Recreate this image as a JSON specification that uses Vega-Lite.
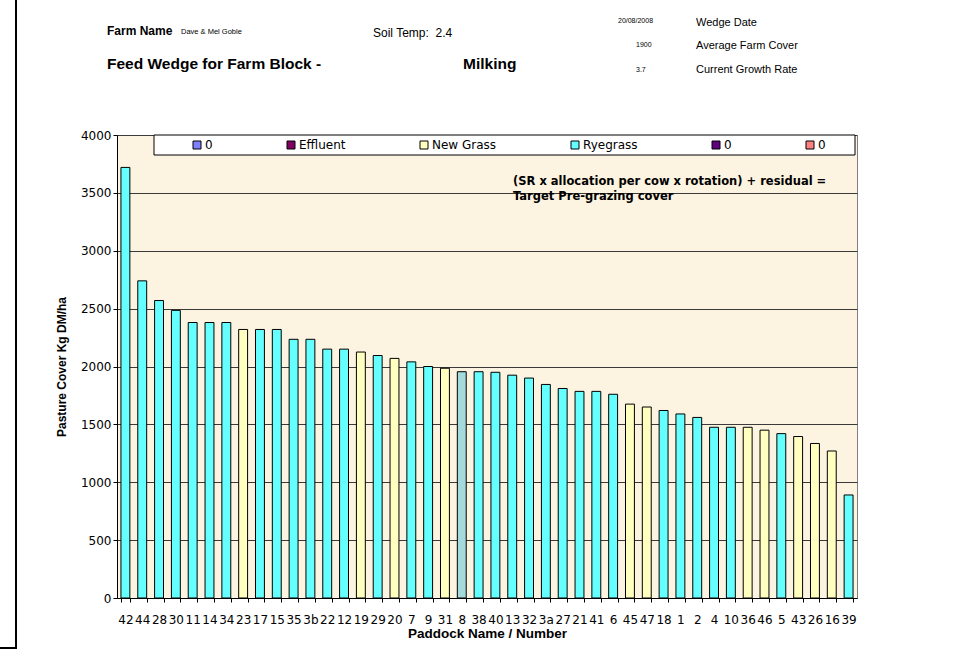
{
  "$schema": "https://vega.github.io/schema/vega-lite/v6.json",
  "width": 740,
  "height": 463,
  "autosize": {"type": "none"},
  "padding": {"left": 117, "top": 135, "right": 110, "bottom": 54},
  "background": "white",
  "config": {
    "view": {"fill": "#FCF3E0", "stroke": "#808080", "strokeWidth": 1},
    "text": {"font": "Liberation Sans", "color": "black"}
  },
  "datasets": {
    "paddocks": [
      {"paddock": "42", "cover": 3720, "type": "Ryegrass", "marked": false},
      {"paddock": "44", "cover": 2740, "type": "Ryegrass", "marked": false},
      {"paddock": "28", "cover": 2570, "type": "Ryegrass", "marked": false},
      {"paddock": "30", "cover": 2485, "type": "Ryegrass", "marked": false},
      {"paddock": "11", "cover": 2380, "type": "Ryegrass", "marked": false},
      {"paddock": "14", "cover": 2380, "type": "Ryegrass", "marked": false},
      {"paddock": "34", "cover": 2380, "type": "Ryegrass", "marked": false},
      {"paddock": "23", "cover": 2320, "type": "New Grass", "marked": false},
      {"paddock": "17", "cover": 2320, "type": "Ryegrass", "marked": false},
      {"paddock": "15", "cover": 2320, "type": "Ryegrass", "marked": false},
      {"paddock": "35", "cover": 2235, "type": "Ryegrass", "marked": false},
      {"paddock": "3b", "cover": 2235, "type": "Ryegrass", "marked": false},
      {"paddock": "22", "cover": 2150, "type": "Ryegrass", "marked": false},
      {"paddock": "12", "cover": 2150, "type": "Ryegrass", "marked": false},
      {"paddock": "19", "cover": 2125, "type": "New Grass", "marked": false},
      {"paddock": "29", "cover": 2095, "type": "Ryegrass", "marked": false},
      {"paddock": "20", "cover": 2070, "type": "New Grass", "marked": false},
      {"paddock": "7", "cover": 2040, "type": "Ryegrass", "marked": false},
      {"paddock": "9", "cover": 2000, "type": "Ryegrass", "marked": false},
      {"paddock": "31", "cover": 1985, "type": "New Grass", "marked": false},
      {"paddock": "8", "cover": 1955, "type": "Ryegrass", "marked": true},
      {"paddock": "38", "cover": 1955, "type": "Ryegrass", "marked": false},
      {"paddock": "40", "cover": 1950, "type": "Ryegrass", "marked": false},
      {"paddock": "13", "cover": 1925, "type": "Ryegrass", "marked": false},
      {"paddock": "32", "cover": 1900, "type": "Ryegrass", "marked": false},
      {"paddock": "3a", "cover": 1845, "type": "Ryegrass", "marked": false},
      {"paddock": "27", "cover": 1810, "type": "Ryegrass", "marked": false},
      {"paddock": "21", "cover": 1785, "type": "Ryegrass", "marked": false},
      {"paddock": "41", "cover": 1785, "type": "Ryegrass", "marked": false},
      {"paddock": "6", "cover": 1760, "type": "Ryegrass", "marked": false},
      {"paddock": "45", "cover": 1675, "type": "New Grass", "marked": false},
      {"paddock": "47", "cover": 1650, "type": "New Grass", "marked": false},
      {"paddock": "18", "cover": 1620, "type": "Ryegrass", "marked": false},
      {"paddock": "1", "cover": 1590, "type": "Ryegrass", "marked": false},
      {"paddock": "2", "cover": 1560, "type": "Ryegrass", "marked": false},
      {"paddock": "4", "cover": 1475, "type": "Ryegrass", "marked": false},
      {"paddock": "10", "cover": 1475, "type": "Ryegrass", "marked": false},
      {"paddock": "36", "cover": 1475, "type": "New Grass", "marked": false},
      {"paddock": "46", "cover": 1450, "type": "New Grass", "marked": false},
      {"paddock": "5", "cover": 1420, "type": "Ryegrass", "marked": false},
      {"paddock": "43", "cover": 1395, "type": "New Grass", "marked": false},
      {"paddock": "26", "cover": 1335, "type": "New Grass", "marked": false},
      {"paddock": "16", "cover": 1270, "type": "New Grass", "marked": false},
      {"paddock": "39", "cover": 890, "type": "Ryegrass", "marked": false}
    ]
  },
  "layer": [
    {
      "data": {"values": [{}]},
      "mark": {"type": "rect", "fill": "white", "stroke": "black", "strokeWidth": 1},
      "encoding": {"x": {"value": 37}, "x2": {"value": 738}, "y": {"value": 0}, "y2": {"value": 20}}
    },
    {
      "data": {"name": "paddocks"},
      "mark": {"type": "bar", "stroke": "black", "strokeWidth": 1},
      "encoding": {
        "x": {
          "field": "paddock",
          "type": "nominal",
          "sort": null,
          "scale": {"paddingInner": 0.47, "paddingOuter": 0.235},
          "axis": {
            "title": "Paddock Name / Number",
            "titleFont": "Liberation Sans",
            "titleFontSize": 13.5,
            "titleFontWeight": "bold",
            "titleColor": "black",
            "titlePadding": 1,
            "labelAngle": 0,
            "labelOverlap": false,
            "labelFont": "DejaVu Sans",
            "labelFontSize": 12,
            "labelColor": "black",
            "labelPadding": 12,
            "tickBand": "extent",
            "tickSize": 4,
            "tickColor": "black",
            "domainColor": "black",
            "grid": false
          }
        },
        "y": {
          "field": "cover",
          "type": "quantitative",
          "scale": {"domain": [0, 4000], "nice": false},
          "axis": {
            "title": "Pasture Cover Kg DM/ha",
            "titleFont": "Liberation Sans",
            "titleFontSize": 12,
            "titleFontWeight": "bold",
            "titleColor": "black",
            "titlePadding": 12,
            "values": [0, 500, 1000, 1500, 2000, 2500, 3000, 3500, 4000],
            "format": "d",
            "labelFont": "DejaVu Sans",
            "labelFontSize": 12,
            "labelColor": "black",
            "labelPadding": 2,
            "tickSize": 4,
            "tickColor": "black",
            "domainColor": "black",
            "grid": true,
            "gridColor": "#3a3a3a",
            "gridWidth": 1
          }
        },
        "color": {
          "condition": {"test": "datum.marked === true", "value": "#A4DADC"},
          "field": "type",
          "type": "nominal",
          "scale": {
            "domain": ["0a", "Effluent", "New Grass", "Ryegrass", "0b", "0c"],
            "range": ["#8080FF", "#800060", "#FFFFC0", "#66FFFF", "#600080", "#FF8080"]
          },
          "legend": {
            "orient": "none",
            "legendX": 37,
            "legendY": 1,
            "direction": "horizontal",
            "columns": 6,
            "values": ["0a", "Effluent", "New Grass", "Ryegrass", "0b", "0c"],
            "labelExpr": "datum.value == '0a' || datum.value == '0b' || datum.value == '0c' ? '0' : datum.value",
            "title": " ",
            "titleOrient": "left",
            "titleFont": "DejaVu Sans",
            "titleFontSize": 11,
            "titlePadding": 34,
            "symbolType": "square",
            "symbolSize": 64,
            "symbolStrokeColor": "black",
            "symbolStrokeWidth": 1,
            "symbolOpacity": 1,
            "labelFont": "DejaVu Sans",
            "labelFontSize": 12,
            "labelColor": "black",
            "labelOffset": 2,
            "columnPadding": 72,
            "gridAlign": "none",
            "padding": 3
          }
        }
      }
    },
    {
      "data": {"values": [{}]},
      "mark": {"type": "text", "text": ["(SR x allocation per cow x rotation) + residual =", "Target Pre-grazing cover"], "align": "left", "baseline": "alphabetic", "font": "DejaVu Sans", "fontWeight": "bold", "fontSize": 11.5, "lineHeight": 15},
      "encoding": {"x": {"value": 396}, "y": {"value": 50}}
    },
    {
      "data": {"values": [{}]},
      "mark": {"type": "text", "text": "Farm Name", "align": "left", "baseline": "alphabetic", "fontWeight": "bold", "fontSize": 12},
      "encoding": {"x": {"value": -10}, "y": {"value": -100}}
    },
    {
      "data": {"values": [{}]},
      "mark": {"type": "text", "text": "Dave & Mel Goble", "align": "left", "baseline": "alphabetic", "fontSize": 7.5},
      "encoding": {"x": {"value": 64}, "y": {"value": -101}}
    },
    {
      "data": {"values": [{}]},
      "mark": {"type": "text", "text": "Soil Temp:\u00a0\u00a02.4", "align": "left", "baseline": "alphabetic", "fontSize": 12},
      "encoding": {"x": {"value": 256}, "y": {"value": -98}}
    },
    {
      "data": {"values": [{}]},
      "mark": {"type": "text", "text": "Feed Wedge for Farm Block -", "align": "left", "baseline": "alphabetic", "fontWeight": "bold", "fontSize": 15.5},
      "encoding": {"x": {"value": -10}, "y": {"value": -66}}
    },
    {
      "data": {"values": [{}]},
      "mark": {"type": "text", "text": "Milking", "align": "left", "baseline": "alphabetic", "fontWeight": "bold", "fontSize": 15.5},
      "encoding": {"x": {"value": 346}, "y": {"value": -66}}
    },
    {
      "data": {"values": [{}]},
      "mark": {"type": "text", "text": "20/08/2008", "align": "left", "baseline": "alphabetic", "fontSize": 7},
      "encoding": {"x": {"value": 501}, "y": {"value": -112}}
    },
    {
      "data": {"values": [{}]},
      "mark": {"type": "text", "text": "Wedge Date", "align": "left", "baseline": "alphabetic", "fontSize": 11},
      "encoding": {"x": {"value": 579}, "y": {"value": -109}}
    },
    {
      "data": {"values": [{}]},
      "mark": {"type": "text", "text": "1900", "align": "left", "baseline": "alphabetic", "fontSize": 7},
      "encoding": {"x": {"value": 519}, "y": {"value": -88}}
    },
    {
      "data": {"values": [{}]},
      "mark": {"type": "text", "text": "Average Farm Cover", "align": "left", "baseline": "alphabetic", "fontSize": 11},
      "encoding": {"x": {"value": 579}, "y": {"value": -86}}
    },
    {
      "data": {"values": [{}]},
      "mark": {"type": "text", "text": "3.7", "align": "left", "baseline": "alphabetic", "fontSize": 7},
      "encoding": {"x": {"value": 519}, "y": {"value": -63}}
    },
    {
      "data": {"values": [{}]},
      "mark": {"type": "text", "text": "Current Growth Rate", "align": "left", "baseline": "alphabetic", "fontSize": 11},
      "encoding": {"x": {"value": 579}, "y": {"value": -62}}
    },
    {
      "data": {"values": [{}]},
      "mark": {"type": "rule", "color": "black", "strokeWidth": 2},
      "encoding": {"x": {"value": -101}, "y": {"value": -135}, "y2": {"value": 513}}
    },
    {
      "data": {"values": [{}]},
      "mark": {"type": "rule", "color": "black", "strokeWidth": 2},
      "encoding": {"x": {"value": -117}, "x2": {"value": -100}, "y": {"value": 513}}
    }
  ]
}
